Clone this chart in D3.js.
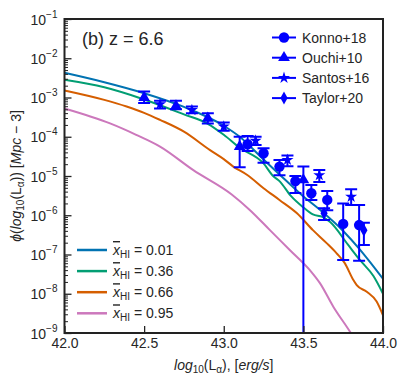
<!DOCTYPE html>
<html>
<head>
<meta charset="utf-8">
<script src="https://cdn.jsdelivr.net/npm/d3@7"></script>
<style>
  body { margin: 0; background: #fff; }
  svg { display: block; font-family: "Liberation Sans", Arial, sans-serif; }
</style>
</head>
<body>
<svg id="chart" width="407" height="384"></svg>
<script>
// model curves: log10(L) and log10(phi)
const blueL = [42.0, 42.25, 42.5, 42.75, 43.0, 43.1, 43.25, 43.35, 43.5, 43.6, 43.75, 43.85, 43.92, 44.0];
const blueLogPhi = [-2.37, -2.61, -2.89, -3.24, -3.72, -4.0, -4.58, -4.96, -5.52, -5.85, -6.4, -6.85, -7.2, -7.62];
const greenL = [42.0, 42.25, 42.5, 42.75, 42.9, 43.0, 43.1, 43.25, 43.31, 43.35, 43.42, 43.5, 43.56, 43.62, 43.67, 43.78, 43.855, 43.94, 44.0];
const greenLogPhi = [-2.55, -2.74, -3.05, -3.43, -3.67, -3.95, -4.28, -4.68, -5.0, -5.13, -5.5, -5.8, -5.98, -6.04, -6.18, -6.75, -7.14, -7.55, -8.0];
const orangeL = [42.0, 42.25, 42.39, 42.5, 42.6, 42.75, 42.914, 43.0, 43.06, 43.15, 43.25, 43.35, 43.46, 43.56, 43.646, 43.709, 43.76, 43.814, 43.835, 43.898, 43.96, 44.0];
const orangeLogPhi = [-2.82, -3.06, -3.23, -3.39, -3.57, -3.87, -4.34, -4.57, -4.76, -4.98, -5.31, -5.61, -5.95, -6.38, -6.71, -6.97, -7.22, -7.65, -7.78, -7.95, -8.2, -8.55];
const pinkL = [42.0, 42.286, 42.45, 42.6, 42.809, 43.05, 43.165, 43.29, 43.416, 43.541, 43.604, 43.688, 43.793, 43.85];
const pinkLogPhi = [-3.28, -3.66, -3.95, -4.25, -4.85, -5.47, -5.87, -6.38, -6.89, -7.4, -7.73, -8.33, -8.97, -9.35];
const curveLabels = ["0.01", "0.36", "0.66", "0.95"];

// observations
const konnoL = [43.15, 43.25, 43.35, 43.45, 43.55, 43.65, 43.75, 43.85];
const konnoLogPhi = [-4.19, -4.42, -4.76, -5.13, -5.44, -5.61, -6.22, -6.25];
const konnoUp = [-3.98, -4.29, -4.59, -5.0, -5.23, -5.38, -5.70, -5.74];
const konnoLo = [-4.36, -4.66, -4.98, -5.43, -5.61, -5.87, -7.14, -7.16];

const ouchiL = [42.5, 42.7, 42.9, 43.1, 43.5];
const ouchiLogPhi = [-3.0, -3.22, -3.53, -4.25, -5.10];
const ouchiUp = [-2.85, -3.08, -3.40, -4.0, -4.76];
const ouchiLo = [-3.14, -3.30, -3.66, -4.78, -10];

const santosL = [42.6, 42.8, 43.0, 43.2, 43.4, 43.6, 43.8];
const santosLogPhi = [-3.17, -3.32, -3.74, -4.10, -4.59, -4.98, -5.53];
const santosUp = [-3.08, -3.23, -3.64, -4.0, -4.48, -4.85, -5.34];
const santosLo = [-3.28, -3.40, -3.85, -4.21, -4.75, -5.15, -5.74];

const taylorL = [43.63, 43.88];
const taylorLogPhi = [-5.95, -6.38];
const taylorUp = [-5.82, -6.19];
const taylorLo = [-6.12, -6.76];

const obsLabels = ["Konno+18", "Ouchi+10", "Santos+16", "Taylor+20"];
const xTicks = [42.0, 42.5, 43.0, 43.5, 44.0];
const yExponents = [-9, -8, -7, -6, -5, -4, -3, -2, -1];

const svg = d3.select("#chart");
const plotLeft = 64.5, plotRight = 383, plotTop = 19, plotBottom = 333;
const textColor = "#262626";
const obsColor = "#0000ff";
const curveColors = ["#0173b2", "#029e73", "#d55e00", "#cc78bc"];

const x = d3.scaleLinear().domain([42, 44]).range([plotLeft, plotRight]);
const y = d3.scaleLog().domain([1e-9, 1e-1]).range([plotBottom, plotTop]);
const py = v => y(Math.pow(10, v));

svg.append("clipPath").attr("id", "plotclip")
  .append("rect").attr("x", plotLeft).attr("y", plotTop)
  .attr("width", plotRight - plotLeft).attr("height", plotBottom - plotTop);

// curves
const curves = [
  [blueL, blueLogPhi], [greenL, greenLogPhi], [orangeL, orangeLogPhi], [pinkL, pinkLogPhi]
];
const line = d3.line()
  .x(d => x(d[0]))
  .y(d => py(d[1]))
  .curve(d3.curveMonotoneX);

const curveG = svg.append("g").attr("clip-path", "url(#plotclip)");
curves.forEach((c, i) => {
  curveG.append("path")
    .datum(d3.zip(c[0], c[1]))
    .attr("d", line)
    .attr("fill", "none")
    .attr("stroke", curveColors[i])
    .attr("stroke-width", 2);
});

// symbols
const thinDiamond = "M0,-6.5L3.6,0L0,6.5L-3.6,0Z";
const symbolPaths = [
  d3.symbol().type(d3.symbolCircle).size(85)(),
  d3.symbol().type(d3.symbolTriangle).size(60)(),
  d3.symbol().type(d3.symbolStar).size(45)(),
  thinDiamond
];

const obs = [
  [konnoL, konnoLogPhi, konnoUp, konnoLo],
  [ouchiL, ouchiLogPhi, ouchiUp, ouchiLo],
  [santosL, santosLogPhi, santosUp, santosLo],
  [taylorL, taylorLogPhi, taylorUp, taylorLo]
];

const obsG = svg.append("g").attr("clip-path", "url(#plotclip)");
const cap = 6;
[1, 2, 3, 0].forEach(k => {
  const s = obs[k];
  s[0].forEach((L, i) => {
    const cx = x(L);
    const g = obsG.append("g");
    const yUp = py(s[2][i]), yLo = py(s[3][i]);
    g.append("line").attr("x1", cx).attr("x2", cx).attr("y1", yUp).attr("y2", yLo)
      .attr("stroke", obsColor).attr("stroke-width", 2);
    [yUp, yLo].forEach(yy => {
      g.append("line").attr("x1", cx - cap).attr("x2", cx + cap).attr("y1", yy).attr("y2", yy)
        .attr("stroke", obsColor).attr("stroke-width", 2);
    });
    g.append("path").attr("d", symbolPaths[k])
      .attr("transform", `translate(${cx},${py(s[1][i])})`)
      .attr("fill", obsColor);
  });
});

// axes
const yMinor = [];
yExponents.slice(0, -1).forEach(e => {
  for (let m = 2; m <= 9; m++) yMinor.push(m * Math.pow(10, e));
});

const yAxis = svg.append("g").attr("transform", `translate(${plotLeft},0)`)
  .call(d3.axisLeft(y).tickValues(yExponents.map(e => Math.pow(10, e)))
    .tickSize(-7).tickFormat(""));
yAxis.select(".domain").remove();
yAxis.selectAll(".tick line").attr("stroke", "#222").attr("stroke-width", 1.3);
yAxis.selectAll(".tick").each(function(d) {
  const t = d3.select(this).append("text")
    .attr("x", -7).attr("y", 5).attr("dy", 0)
    .attr("text-anchor", "end").attr("fill", textColor)
    .attr("font-size", 14);
  t.append("tspan").text("10");
  t.append("tspan").attr("dy", -7).attr("font-size", 10)
    .text("\u2212" + Math.abs(Math.round(Math.log10(d))));
});

const yMinorAxis = svg.append("g").attr("transform", `translate(${plotLeft},0)`)
  .call(d3.axisLeft(y).tickValues(yMinor).tickSize(-3.5).tickFormat(""));
yMinorAxis.select(".domain").remove();
yMinorAxis.selectAll(".tick line").attr("stroke", "#222").attr("stroke-width", 1);

const xAxis = svg.append("g").attr("transform", `translate(0,${plotBottom})`)
  .call(d3.axisBottom(x).tickValues(xTicks).tickSize(-7).tickPadding(5)
    .tickFormat(d3.format(".1f")));
xAxis.select(".domain").remove();
xAxis.selectAll(".tick line").attr("stroke", "#222").attr("stroke-width", 1.3);
xAxis.selectAll(".tick text").attr("font-size", 14).attr("fill", textColor);
xAxis.attr("font-family", null).attr("font-size", null);

// frame
svg.append("rect").attr("x", plotLeft).attr("y", plotTop)
  .attr("width", plotRight - plotLeft).attr("height", plotBottom - plotTop)
  .attr("fill", "none").attr("stroke", "#222").attr("stroke-width", 2);

// title
svg.append("text").attr("x", 82).attr("y", 45).attr("font-size", 18)
  .attr("fill", textColor).text("(b) z = 6.6");

// x label
const xl = svg.append("text").attr("x", (plotLeft + plotRight) / 2).attr("y", 370)
  .attr("text-anchor", "middle").attr("font-size", 14).attr("fill", textColor);
xl.append("tspan").attr("font-style", "italic").text("log");
xl.append("tspan").attr("font-size", 10).attr("dy", 3).text("10");
xl.append("tspan").attr("dy", -3).text("(L");
xl.append("tspan").attr("font-size", 10).attr("dy", 3).text("\u03b1");
xl.append("tspan").attr("dy", -3).text("), [");
xl.append("tspan").attr("font-style", "italic").text("erg/s");
xl.append("tspan").text("]");

// y label
const yl = svg.append("text")
  .attr("transform", `translate(21,${(plotTop + plotBottom) / 2}) rotate(-90)`)
  .attr("text-anchor", "middle").attr("font-size", 14).attr("fill", textColor);
yl.append("tspan").attr("font-style", "italic").text("\u03d5");
yl.append("tspan").text("(");
yl.append("tspan").attr("font-style", "italic").text("log");
yl.append("tspan").attr("font-size", 10).attr("dy", 3).text("10");
yl.append("tspan").attr("dy", -3).text("(L");
yl.append("tspan").attr("font-size", 10).attr("dy", 3).text("\u03b1");
yl.append("tspan").attr("dy", -3).text(")) [");
yl.append("tspan").attr("font-style", "italic").text("Mpc");
yl.append("tspan").text(" \u2212 3]");

// observation legend
const legObs = svg.append("g");
obsLabels.forEach((lab, i) => {
  const ly = 37.5 + i * 20.2;
  legObs.append("line").attr("x1", 272).attr("x2", 296).attr("y1", ly).attr("y2", ly)
    .attr("stroke", obsColor).attr("stroke-width", 2);
  legObs.append("path").attr("d", symbolPaths[i])
    .attr("transform", `translate(284,${ly})`).attr("fill", obsColor);
  legObs.append("text").attr("x", 302).attr("y", ly + 5).attr("font-size", 14)
    .attr("fill", textColor).text(lab);
});

// model legend
const legMod = svg.append("g");
curveLabels.forEach((lab, i) => {
  const ly = 250 + i * 21.1;
  legMod.append("line").attr("x1", 77).attr("x2", 107).attr("y1", ly).attr("y2", ly)
    .attr("stroke", curveColors[i]).attr("stroke-width", 2.5);
  const t = legMod.append("text").attr("x", 113).attr("y", ly + 5).attr("font-size", 14)
    .attr("fill", textColor);
  t.append("tspan").attr("font-style", "italic")
    .style("text-decoration", "overline").text("x");
  t.append("tspan").attr("font-size", 10).attr("dy", 3).text("HI");
  t.append("tspan").attr("dy", -3).text(" = " + lab);
});
</script>
</body>
</html>
